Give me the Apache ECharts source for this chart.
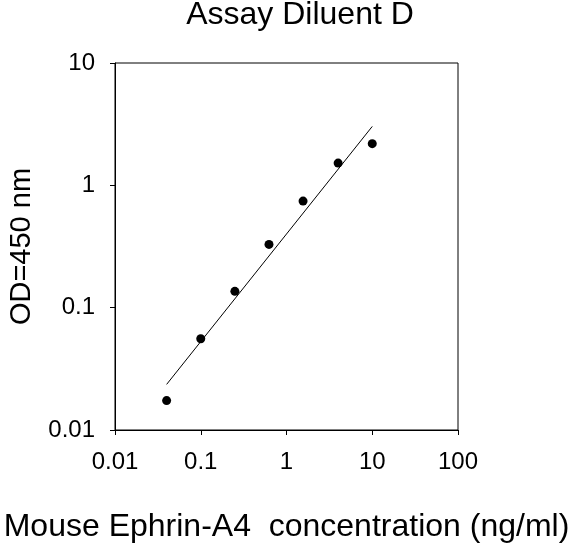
<!DOCTYPE html>
<html>
<head>
<meta charset="utf-8">
<style>
  html, body { margin: 0; padding: 0; background: #fff; }
  #chart-container { width: 574px; height: 546px; }
</style>
<script src="https://cdn.jsdelivr.net/npm/echarts@6/dist/echarts.min.js"></script>
</head>
<body>
<div id="chart-container"></div>
<script>
// standard curve
const concentration = [0.04, 0.1, 0.25, 0.625, 1.56, 4, 10];
const od450 = [0.0174, 0.0557, 0.136, 0.329, 0.743, 1.52, 2.19];
// trend line end points
const fitX = [0.04, 10];
const fitY = [0.0236, 3.03];

(() => {
  var dom = document.getElementById("chart-container");
  var chart = echarts.init(dom, null, { renderer: "canvas" });
  const font = "'Liberation Sans', Arial, sans-serif";
  const option = {
    animation: false,
    textStyle: { fontFamily: font, color: "#000" },
    title: {
      text: "Assay Diluent D",
      left: 295,
      textAlign: "center",
      top: -6,
      textStyle: { fontFamily: font, fontSize: 32, fontWeight: "normal", color: "#000" },
    },
    grid: {
      left: 115,
      top: 63,
      width: 343,
      height: 367,
      containLabel: false,
      outerBoundsMode: "none",
      show: true,
      borderColor: "#000",
      borderWidth: 1,
    },
    xAxis: {
      type: "log",
      logBase: 10,
      min: 0.01,
      max: 100,
      name: "Mouse Ephrin-A4  concentration (ng/ml)",
      nameLocation: "middle",
      nameGap: 81,
      nameTextStyle: { fontFamily: font, fontSize: 32, color: "#000" },
      axisLine: { lineStyle: { color: "#000", width: 1 } },
      axisTick: { show: true, length: 5, lineStyle: { color: "#000" } },
      minorTick: { show: false },
      splitLine: { show: false },
      axisLabel: { fontFamily: font, fontSize: 24, color: "#000", margin: 20 },
    },
    yAxis: {
      type: "log",
      logBase: 10,
      min: 0.01,
      max: 10,
      name: "OD=450 nm",
      nameLocation: "middle",
      nameRotate: 90,
      nameGap: 79,
      nameTextStyle: { fontFamily: font, fontSize: 29, color: "#000" },
      axisLine: { lineStyle: { color: "#000", width: 1 } },
      axisTick: { show: true, length: 5, lineStyle: { color: "#000" } },
      minorTick: { show: false },
      splitLine: { show: false },
      axisLabel: { fontFamily: font, fontSize: 24, color: "#000", margin: 20 },
    },
    series: [
      {
        name: "fit",
        type: "line",
        data: fitX.map((x, i) => [x, fitY[i]]),
        symbol: "none",
        lineStyle: { color: "#000", width: 1 },
        silent: true,
      },
      {
        name: "OD",
        type: "scatter",
        data: concentration.map((x, i) => [x, od450[i]]),
        symbol: "circle",
        symbolSize: 9,
        itemStyle: { color: "#000", opacity: 1 },
      },
    ],
  };
  chart.setOption(option);
  window.addEventListener("resize", chart.resize);
})();
</script>
</body>
</html>
